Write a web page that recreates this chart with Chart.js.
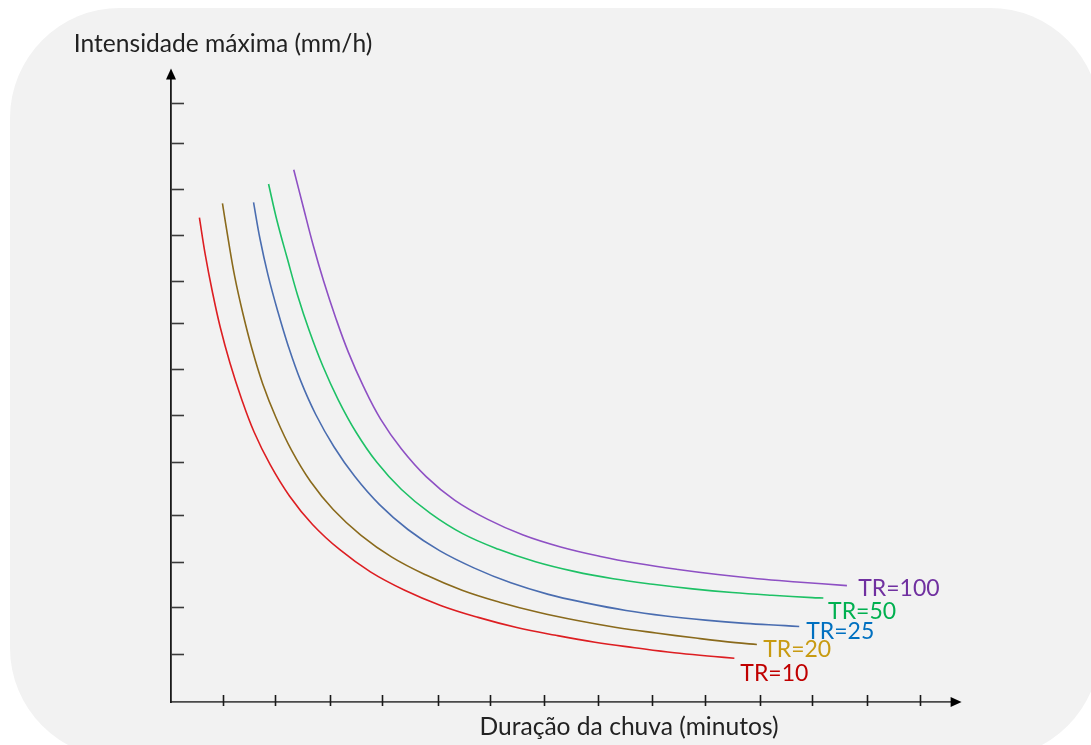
<!DOCTYPE html>
<html>
<head>
<meta charset="utf-8">
<script src="https://cdn.jsdelivr.net/npm/chart.js@4.4.1/dist/chart.umd.min.js"></script>
<style>
html,body{margin:0;padding:0;background:#ffffff;overflow:hidden;}
#wrap{position:relative;width:1091px;height:745px;}
</style>
</head>
<body>
<div id="wrap"><canvas id="c" width="1091" height="745"></canvas></div>
<script>
// ---- data (duration in minutes, intensity in mm/h) ----
const seriesNames = ["TR=10", "TR=20", "TR=25", "TR=50", "TR=100"];

const durTR10 = [5.3, 6.4, 7.7, 9.2, 11.0, 13.1, 15.5, 18.5, 22.1, 26.4, 31.5, 37.2, 43.6, 50.3, 57.3, 64.5, 71.8, 79.1, 86.5, 93.9, 101.3, 105.1];
const intTR10 = [105.3, 97.2, 89.3, 81.4, 73.7, 66.1, 58.7, 51.6, 44.8, 38.6, 33.1, 28.3, 24.3, 21.0, 18.4, 16.2, 14.5, 13.0, 11.8, 10.7, 9.9, 9.5];

const durTR20 = [9.6, 10.7, 11.9, 13.4, 15.1, 17.1, 19.6, 22.5, 26.0, 30.3, 35.4, 41.2, 47.6, 54.3, 61.3, 68.5, 75.8, 83.1, 90.5, 97.9, 105.3, 109.3];
const intTR20 = [108.4, 100.4, 92.4, 84.5, 76.8, 69.2, 61.8, 54.7, 48.0, 41.8, 36.3, 31.5, 27.6, 24.3, 21.7, 19.5, 17.7, 16.2, 15.0, 13.9, 12.9, 12.5];

const durTR25 = [15.4, 16.6, 18.1, 19.9, 21.9, 24.2, 27.0, 30.4, 34.3, 38.9, 44.2, 50.1, 56.6, 63.4, 70.4, 77.6, 84.9, 92.3, 99.7, 107.1, 114.6, 117.2];
const intTR25 = [108.6, 100.7, 92.8, 85.0, 77.3, 69.8, 62.5, 55.5, 49.0, 42.9, 37.5, 32.9, 29.1, 25.9, 23.4, 21.5, 19.9, 18.7, 17.8, 17.1, 16.6, 16.4];

const durTR50 = [18.2, 19.8, 21.7, 23.6, 25.8, 28.3, 31.2, 34.5, 38.4, 43.0, 48.4, 54.4, 61.1, 68.0, 75.2, 82.5, 89.9, 97.3, 104.7, 112.1, 119.6, 121.7];
const intTR50 = [112.6, 104.5, 96.4, 88.5, 80.7, 73.1, 65.7, 58.7, 52.1, 46.2, 41.0, 36.6, 33.2, 30.5, 28.4, 26.8, 25.6, 24.6, 23.8, 23.2, 22.7, 22.6];

const durTR100 = [22.9, 24.7, 26.5, 28.5, 30.7, 33.1, 35.9, 39.1, 43.0, 47.6, 52.9, 59.1, 65.7, 72.7, 79.9, 87.2, 94.6, 102.0, 109.4, 116.8, 126.1];
const intTR100 = [115.7, 107.5, 99.4, 91.4, 83.6, 76.0, 68.6, 61.5, 55.0, 49.0, 43.9, 39.7, 36.3, 33.7, 31.7, 30.1, 28.8, 27.7, 26.8, 26.1, 25.3];

// unlabelled tick marks as drawn in the reference
const xTickValues = [9.7, 19.4, 29.7, 39.4, 49.8, 59.5, 69.6, 79.7, 89.8, 99.6, 109.9, 119.6, 129.9, 139.7];
const yTickValues = [10.4, 20.7, 30.4, 40.7, 52.2, 62.4, 72.4, 82.4, 91.5, 101.5, 111.5, 121.5, 130.2];

const xTitle = "Duração da chuva (minutos)";
const yTitle = "Intensidade máxima (mm/h)";

// ---- styling ----
const lineColors  = ["#dd1e22", "#8a6a1c", "#4a6db0", "#1ec166", "#8e50c4"];
const labelColors = ["#c00000", "#c89b12", "#0070c0", "#00b050", "#7030a0"];
const labelOffsets = [[6, 15.7], [6.3, 4.7], [7, 5.3], [4.7, 13.2], [11.3, 3.3]];

function pts(xs, ys){ return xs.map((x,i)=>({x:x, y:ys[i]})); }
const allDur = [durTR10, durTR20, durTR25, durTR50, durTR100];
const allInt = [intTR10, intTR20, intTR25, intTR50, intTR100];

const datasets = seriesNames.map((n,i)=>({
  label: n,
  data: pts(allDur[i], allInt[i]),
  borderColor: lineColors[i],
  backgroundColor: lineColors[i],
  borderWidth: 1.6,
  pointRadius: 0,
  fill: false,
  tension: 0.4
}));

const bgPlugin = {
  id: 'bg',
  beforeDraw(chart){
    const ctx = chart.ctx;
    ctx.save();
    ctx.fillStyle = '#ffffff';
    ctx.fillRect(0,0,chart.width,chart.height);
    ctx.fillStyle = '#f2f2f2';
    ctx.beginPath();
    ctx.roundRect(10, 8, 1090, 750, 110);
    ctx.fill();
    ctx.restore();
  }
};

const axisPlugin = {
  id: 'axisDeco',
  afterDatasetsDraw(chart){
    const ctx = chart.ctx;
    const xs = chart.scales.x, ys = chart.scales.y;
    const x0 = xs.left, y0 = ys.bottom;
    ctx.save();
    // y ticks (inside, right of axis)
    ctx.strokeStyle = '#3a3a3a';
    ctx.lineWidth = 1.6;
    ys.ticks.forEach(t=>{
      const py = Math.round(ys.getPixelForValue(t.value)) + 0.5;
      ctx.beginPath(); ctx.moveTo(x0, py); ctx.lineTo(x0+13, py); ctx.stroke();
    });
    // x ticks
    ctx.strokeStyle = '#1a1a1a';
    xs.ticks.forEach(t=>{
      const px = Math.round(xs.getPixelForValue(t.value)) + 0.5;
      ctx.beginPath(); ctx.moveTo(px, y0-7); ctx.lineTo(px, y0+4); ctx.stroke();
    });
    // arrows
    ctx.fillStyle = '#000';
    ctx.beginPath();
    ctx.moveTo(x0, ys.top-8); ctx.lineTo(x0-5, ys.top+3); ctx.lineTo(x0+5, ys.top+3); ctx.closePath(); ctx.fill();
    ctx.beginPath();
    ctx.moveTo(xs.right+8, y0); ctx.lineTo(xs.right-3, y0-5); ctx.lineTo(xs.right-3, y0+5); ctx.closePath(); ctx.fill();
    // axis titles
    ctx.fillStyle = '#222';
    ctx.font = '24.6px Lato, "Open Sans", sans-serif';
    ctx.textBaseline = 'middle';
    ctx.textAlign = 'center';
    ctx.fillText(yTitle, x0+52, 44);
    ctx.fillText(xTitle, 629, y0+25);
    // series labels
    ctx.font = '23px Lato, "Open Sans", sans-serif';
    ctx.textAlign = 'left';
    chart.data.datasets.forEach((ds,i)=>{
      const meta = chart.getDatasetMeta(i);
      const last = meta.data[meta.data.length-1];
      ctx.fillStyle = labelColors[i];
      ctx.fillText(ds.label, last.x + labelOffsets[i][0], last.y + labelOffsets[i][1]);
    });
    ctx.restore();
  }
};

new Chart(document.getElementById('c'), {
  type: 'line',
  data: { datasets },
  options: {
    responsive: false,
    animation: false,
    events: [],
    layout: { padding: { left: 171, right: 137.4, top: 76.4, bottom: 43 } },
    plugins: { legend: { display: false }, tooltip: { enabled: false }, title: { display: false } },
    scales: {
      x: {
        type: 'linear', min: 0, max: 146,
        afterBuildTicks: s => { s.ticks = xTickValues.map(v => ({ value: v })); },
        ticks: { display: false },
        grid: { display: false, drawTicks: false },
        border: { display: true, color: '#4a4a4a', width: 1.8 }
      },
      y: {
        type: 'linear', min: 0, max: 136,
        afterBuildTicks: s => { s.ticks = yTickValues.map(v => ({ value: v })); },
        ticks: { display: false },
        grid: { display: false, drawTicks: false },
        border: { display: true, color: '#1a1a1a', width: 1.8 }
      }
    }
  },
  plugins: [bgPlugin, axisPlugin]
});
</script>
</body>
</html>
